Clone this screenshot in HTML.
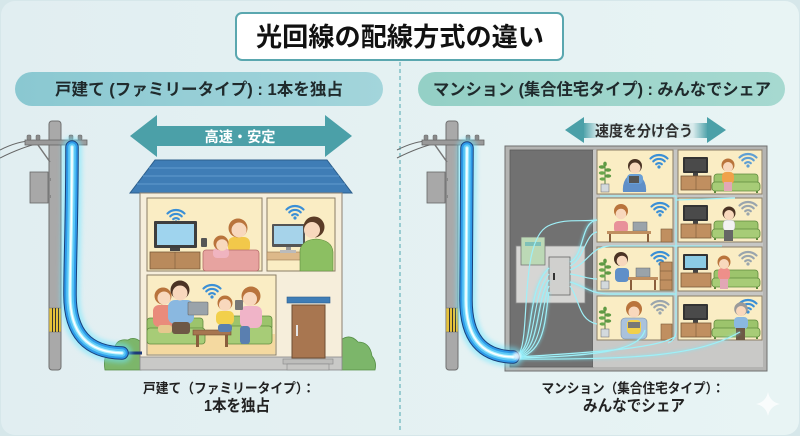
<!DOCTYPE html>
<html><head><meta charset="utf-8">
<style>
html,body{margin:0;padding:0;width:800px;height:436px;overflow:hidden;background:#d6e7ea;}
svg{display:block}
text{font-family:"Liberation Sans","Noto Sans CJK JP",sans-serif;font-weight:bold;}
</style></head><body>
<svg width="800" height="436" viewBox="0 0 800 436" xmlns="http://www.w3.org/2000/svg">
<defs>
<linearGradient id="bg" x1="0" y1="0" x2="1" y2="0"><stop offset="0" stop-color="#e1eef1"/><stop offset="1" stop-color="#e8f4f4"/></linearGradient>
<linearGradient id="pillL" x1="0" y1="0" x2="1" y2="0"><stop offset="0" stop-color="#8ac8d1"/><stop offset="1" stop-color="#a3d5db"/></linearGradient>
<linearGradient id="pillR" x1="0" y1="0" x2="1" y2="0"><stop offset="0" stop-color="#94d0c6"/><stop offset="1" stop-color="#a6d9d0"/></linearGradient>
<linearGradient id="shaft2" x1="0" y1="0" x2="1" y2="0"><stop offset="0" stop-color="#4ba0a8"/><stop offset="0.12" stop-color="#d9ebec"/><stop offset="0.88" stop-color="#d9ebec"/><stop offset="1" stop-color="#4ba0a8"/></linearGradient>
<filter id="glow" x="-50%" y="-50%" width="200%" height="200%"><feGaussianBlur stdDeviation="2.5"/></filter>
<filter id="glow2" x="-50%" y="-50%" width="200%" height="200%"><feGaussianBlur stdDeviation="1.2"/></filter>
<g id="wifi">
 <path d="M-8.5,-2.5 A12,12 0 0 1 8.5,-2.5" fill="none" stroke="currentColor" stroke-width="2.2" stroke-linecap="round"/>
 <path d="M-5.7,0.3 A8,8 0 0 1 5.7,0.3" fill="none" stroke="currentColor" stroke-width="2.2" stroke-linecap="round"/>
 <path d="M-2.8,3.2 A4,4 0 0 1 2.8,3.2" fill="none" stroke="currentColor" stroke-width="2.2" stroke-linecap="round"/>
 <circle cx="0" cy="6" r="1.6" fill="currentColor"/>
</g>
<g id="plant">
 <line x1="0" y1="8" x2="0" y2="-12" stroke="#4e7a3a" stroke-width="1"/>
 <ellipse cx="-3" cy="-9" rx="3.2" ry="1.7" fill="#5f9a44"/>
 <ellipse cx="3" cy="-6" rx="3.2" ry="1.7" fill="#5f9a44"/>
 <ellipse cx="-3" cy="-3" rx="3.2" ry="1.7" fill="#6aa84d"/>
 <ellipse cx="3" cy="0" rx="3.2" ry="1.7" fill="#5f9a44"/>
 <ellipse cx="-2.5" cy="3" rx="3" ry="1.6" fill="#6aa84d"/>
 <ellipse cx="0" cy="-12" rx="1.8" ry="2.4" fill="#5f9a44"/>
 <rect x="-4" y="8" width="8" height="8" fill="#d3d9dd" stroke="#7a7a7a" stroke-width="0.6"/>
</g>
<g id="tvset">
 <rect x="0" y="0" width="25" height="16" rx="1" fill="#333"/>
 <rect x="2" y="2" width="21" height="12" fill="#4a4a4a"/>
 <rect x="10" y="16" width="5" height="3" fill="#444"/>
 <rect x="-2" y="19" width="30" height="14" fill="#c08f60" stroke="#7a5a3a" stroke-width="0.8"/>
 <line x1="13" y1="19" x2="13" y2="33" stroke="#7a5a3a" stroke-width="0.6"/>
</g>
<g id="sofa">
 <rect x="0" y="0" width="44" height="12" rx="3" fill="#9cc46c" stroke="#5f8a3e" stroke-width="0.8"/>
 <rect x="-2" y="8" width="48" height="9" rx="3" fill="#a7cc77" stroke="#5f8a3e" stroke-width="0.8"/>
 <rect x="0" y="17" width="2" height="2" fill="#5f8a3e"/><rect x="42" y="17" width="2" height="2" fill="#5f8a3e"/>
</g>
<g id="pole">
 <path d="M0,150 Q20,140 35,141" fill="none" stroke="#666" stroke-width="1"/>
 <path d="M0,158 Q22,147 40,143" fill="none" stroke="#666" stroke-width="1"/>
 <rect x="49" y="121" width="12" height="249" rx="3" fill="#a9a9a9" stroke="#707070" stroke-width="1"/>
 <rect x="25" y="140" width="62" height="5" fill="#9a9a9a" stroke="#666" stroke-width="0.8"/>
 <rect x="27" y="135" width="4" height="5" rx="1" fill="#8a8a8a" stroke="#666" stroke-width="0.5"/>
 <rect x="36" y="135" width="4" height="5" rx="1" fill="#8a8a8a" stroke="#666" stroke-width="0.5"/>
 <rect x="69" y="135" width="4" height="5" rx="1" fill="#8a8a8a" stroke="#666" stroke-width="0.5"/>
 <rect x="78" y="135" width="4" height="5" rx="1" fill="#8a8a8a" stroke="#666" stroke-width="0.5"/>
 <line x1="38" y1="145" x2="50" y2="162" stroke="#777" stroke-width="1.5"/>
 <rect x="47" y="178" width="4" height="3" fill="#888"/><rect x="47" y="195" width="4" height="3" fill="#888"/>
 <rect x="30" y="172" width="18" height="31" fill="#a8a8a8" stroke="#666" stroke-width="0.8"/>
 <rect x="49" y="308" width="12" height="24" fill="#e6c23a" stroke="#777" stroke-width="0.6"/>
 <line x1="52.5" y1="308" x2="52.5" y2="332" stroke="#333" stroke-width="1"/>
 <line x1="55.5" y1="308" x2="55.5" y2="332" stroke="#333" stroke-width="1"/>
 <line x1="58.5" y1="308" x2="58.5" y2="332" stroke="#333" stroke-width="1"/>
</g>
</defs>

<rect x="1" y="1" width="798" height="434" rx="14" fill="url(#bg)"/>

<!-- title -->
<rect x="236" y="13" width="327" height="47" rx="6" fill="#ffffff" stroke="#5aa7af" stroke-width="2"/>
<text x="400" y="46" font-size="26" text-anchor="middle" textLength="288" lengthAdjust="spacingAndGlyphs" fill="#111">光回線の配線方式の違い</text>

<!-- divider -->
<line x1="400" y1="62" x2="400" y2="432" stroke="#68b4bb" stroke-width="1.2" stroke-dasharray="4 3"/>

<!-- pills -->
<rect x="15" y="72" width="368" height="34" rx="17" fill="url(#pillL)"/>
<text x="199" y="95" font-size="16.5" text-anchor="middle" textLength="288" lengthAdjust="spacingAndGlyphs" fill="#1f2a2c">戸建て (ファミリータイプ) : 1本を独占</text>
<rect x="418" y="72" width="367" height="34" rx="17" fill="url(#pillR)"/>
<text x="602" y="95" font-size="16.5" text-anchor="middle" textLength="338" lengthAdjust="spacingAndGlyphs" fill="#1f2a2c">マンション (集合住宅タイプ) : みんなでシェア</text>

<!-- arrows -->
<polygon points="130,136 157,115 157,126 325,126 325,115 352,136 325,157 325,146 157,146 157,157" fill="#4ba0a8"/>
<text x="240" y="142" font-size="14.5" text-anchor="middle" textLength="71" lengthAdjust="spacingAndGlyphs" fill="#ffffff">高速・安定</text>
<rect x="583" y="123" width="125" height="15" fill="url(#shaft2)"/>
<polygon points="565,130 584,117 584,143" fill="#4ba0a8"/>
<polygon points="707,117 726,130 707,143" fill="#4ba0a8"/>
<text x="644" y="136" font-size="15" text-anchor="middle" textLength="98" lengthAdjust="spacingAndGlyphs" fill="#2e2e2e">速度を分け合う</text>

<!-- ================= LEFT: house ================= -->
<use href="#pole"/>

<!-- bushes -->
<path d="M105,370 Q102,352 114,350 Q116,338 128,340 Q134,336 141,342 L141,370 Z" fill="#7cb66a" stroke="#558f45" stroke-width="0.8"/>
<path d="M341,370 L341,340 Q350,333 358,342 Q370,342 372,356 Q377,362 375,370 Z" fill="#7cb66a" stroke="#558f45" stroke-width="0.8"/>

<!-- roof -->
<polygon points="155,160 327,160 352,193 130,193" fill="#3f7db6" stroke="#2c5e8c" stroke-width="1"/>
<line x1="149" y1="168" x2="333" y2="168" stroke="#5a96c9" stroke-width="1.2"/>
<line x1="143" y1="176" x2="339" y2="176" stroke="#5a96c9" stroke-width="1.2"/>
<line x1="137" y1="184" x2="345" y2="184" stroke="#5a96c9" stroke-width="1.2"/>
<!-- wall -->
<rect x="140" y="193" width="202" height="165" fill="#f6eedb" stroke="#8b8070" stroke-width="1"/>
<rect x="140" y="357" width="202" height="13" fill="#c9c9c7" stroke="#888" stroke-width="0.8"/>
<rect x="283" y="359" width="50" height="5" fill="#bdbdbb" stroke="#888" stroke-width="0.6"/>
<rect x="287" y="364" width="42" height="6" fill="#c6c6c4" stroke="#888" stroke-width="0.6"/>
<rect x="287" y="297" width="43" height="6" fill="#3f7db6" stroke="#2c5e8c" stroke-width="0.6"/>
<rect x="292" y="305" width="33" height="53" fill="#a87650" stroke="#6e4d33" stroke-width="1"/>
<rect x="296" y="325" width="2" height="11" fill="#e4e4e4"/>

<!-- top-left room -->
<rect x="147" y="198" width="115" height="73" fill="#faedc4" stroke="#8b7d66" stroke-width="1"/>
<use href="#wifi" x="176" y="216" color="#3a8fd6"/>
<rect x="154" y="221" width="43" height="27" rx="1" fill="#3e3e3e"/>
<rect x="157" y="224" width="37" height="21" fill="#9fd4ee"/>
<rect x="170" y="248" width="10" height="3" fill="#444"/>
<rect x="150" y="252" width="50" height="17" fill="#b98a5c" stroke="#7a5a3a" stroke-width="0.8"/>
<line x1="175" y1="252" x2="175" y2="269" stroke="#7a5a3a" stroke-width="0.6"/>
<rect x="228" y="237" width="22" height="16" rx="6" fill="#f2c84a"/>
<circle cx="238" cy="228" r="9.5" fill="#b9743c"/>
<circle cx="239" cy="230" r="7.5" fill="#f8d8bd"/>
<rect x="203" y="250" width="56" height="21" rx="3" fill="#e7a3a0" stroke="#b56d6b" stroke-width="0.8"/>
<rect x="213" y="248" width="16" height="10" rx="4" fill="#f0b4c0"/>
<circle cx="221" cy="243" r="7.5" fill="#b9743c"/>
<circle cx="222" cy="245" r="5.8" fill="#f8d8bd"/>
<rect x="201" y="238" width="6" height="9" rx="1" fill="#555"/>

<!-- top-right room -->
<rect x="267" y="198" width="68" height="73" fill="#faedc4" stroke="#8b7d66" stroke-width="1"/>
<use href="#wifi" x="295" y="212" color="#3a8fd6"/>
<rect x="272" y="224" width="33" height="23" rx="1" fill="#555"/>
<rect x="274" y="226" width="29" height="18" fill="#a6d3ea"/>
<rect x="286" y="247" width="5" height="5" fill="#999"/>
<rect x="267" y="252" width="42" height="8" fill="#ddb98a" stroke="#9a7a55" stroke-width="0.6"/>
<rect x="280" y="250" width="16" height="3" fill="#bbb"/>
<path d="M300,271 L300,250 Q302,240 316,239 Q332,240 333,252 L333,271 Z" fill="#8cbf62" stroke="#5f8a3e" stroke-width="0.6"/>
<circle cx="314" cy="227" r="10.5" fill="#5b3c27"/>
<circle cx="312" cy="230" r="8" fill="#f8d8bd"/>

<!-- bottom room -->
<rect x="147" y="275" width="129" height="80" fill="#faedc4" stroke="#8b7d66" stroke-width="1"/>
<rect x="148" y="334" width="127" height="20" fill="#f4d9a0"/>
<use href="#wifi" x="212" y="291" color="#3a8fd6"/>
<rect x="147" y="318" width="56" height="14" rx="3" fill="#9cc46c" stroke="#5f8a3e" stroke-width="0.8"/>
<rect x="147" y="328" width="58" height="16" rx="3" fill="#a7cc77" stroke="#5f8a3e" stroke-width="0.8"/>
<rect x="228" y="316" width="44" height="14" rx="3" fill="#9cc46c" stroke="#5f8a3e" stroke-width="0.8"/>
<rect x="226" y="326" width="46" height="18" rx="3" fill="#a7cc77" stroke="#5f8a3e" stroke-width="0.8"/>
<!-- people -->
<rect x="153" y="305" width="22" height="22" rx="6" fill="#e98b7b"/>
<rect x="158" y="325" width="14" height="8" rx="3" fill="#e6c88e"/>
<circle cx="163" cy="296" r="8.5" fill="#b9743c"/>
<circle cx="164" cy="298" r="6.5" fill="#f8d8bd"/>
<rect x="168" y="300" width="26" height="24" rx="7" fill="#8ab8e0"/>
<rect x="172" y="322" width="18" height="12" rx="3" fill="#6e5845"/>
<circle cx="180" cy="290" r="9.5" fill="#4b3324"/>
<circle cx="180" cy="293" r="7.5" fill="#f8d8bd"/>
<rect x="188" y="302" width="20" height="13" rx="1" fill="#9aa3aa" stroke="#666" stroke-width="0.6"/>
<rect x="193" y="330" width="38" height="5" fill="#a77650" stroke="#6e4d33" stroke-width="0.6"/>
<rect x="196" y="335" width="3" height="12" fill="#8a5e3c"/><rect x="225" y="335" width="3" height="12" fill="#8a5e3c"/>
<rect x="216" y="311" width="18" height="14" rx="5" fill="#f2d04b"/>
<rect x="218" y="324" width="14" height="8" rx="3" fill="#5a7fb0"/>
<circle cx="225" cy="303" r="7.5" fill="#b9743c"/>
<circle cx="225" cy="305" r="6" fill="#f8d8bd"/>
<rect x="240" y="306" width="22" height="22" rx="6" fill="#f0b4c8"/>
<rect x="240" y="326" width="10" height="18" rx="3" fill="#5a7fb0"/>
<circle cx="251" cy="296" r="9.5" fill="#b9743c"/>
<circle cx="250" cy="299" r="7" fill="#f8d8bd"/>
<rect x="235" y="300" width="8" height="10" rx="1" fill="#777"/>

<!-- left fiber cable -->
<line x1="122" y1="353" x2="142" y2="353" stroke="#1c3a78" stroke-width="3"/>
<path d="M72,147 C72,220 70,260 70,295 Q70,352 122,353" fill="none" stroke="#6ee6ff" stroke-width="20" stroke-linecap="round" opacity="0.55" filter="url(#glow)"/>
<path d="M72,147 C72,220 70,260 70,295 Q70,352 122,353" fill="none" stroke="#1a3f7a" stroke-width="13.5" stroke-linecap="round"/>
<path d="M72,147 C72,220 70,260 70,295 Q70,352 122,353" fill="none" stroke="#2e9ae8" stroke-width="11.5" stroke-linecap="round"/>
<path d="M72,147 C72,220 70,260 70,295 Q70,352 122,353" fill="none" stroke="#5cc8f6" stroke-width="7.5" stroke-linecap="round"/>
<path d="M72,147 C72,220 70,260 70,295 Q70,352 122,353" fill="none" stroke="#b4f2ff" stroke-width="3.5" stroke-linecap="round"/>
<path d="M72,147 C72,220 70,260 70,295 Q70,352 122,353" fill="none" stroke="#ffffff" stroke-width="1.4" stroke-linecap="round"/>

<!-- left labels -->
<text x="229" y="393" font-size="13.5" text-anchor="middle" textLength="172" lengthAdjust="spacingAndGlyphs" fill="#222">戸建て（ファミリータイプ）：</text>
<text x="237" y="411" font-size="16" text-anchor="middle" textLength="66" lengthAdjust="spacingAndGlyphs" fill="#222">1本を独占</text>

<!-- ================= RIGHT: apartment ================= -->
<use href="#pole" transform="translate(397,0)"/>

<rect x="505" y="146" width="262" height="225" fill="#b4b4b2" stroke="#6f6f6f" stroke-width="1"/>
<rect x="510" y="150" width="83" height="217" fill="#717171" stroke="#5a5a5a" stroke-width="0.8"/>
<rect x="593" y="150" width="170" height="217" fill="#c6c6c4"/>
<rect x="593" y="340" width="170" height="27" fill="#c9c9c7"/>

<!-- panel -->
<rect x="516" y="246" width="69" height="57" fill="#d6d6d4" stroke="#8a8a8a" stroke-width="0.8"/>
<rect x="521" y="237" width="24" height="28" fill="#bcd9b6" stroke="#777" stroke-width="0.8"/>
<rect x="525" y="242" width="16" height="4" fill="#7fc0b8"/>
<rect x="549" y="257" width="21" height="38" fill="#d0d0ce" stroke="#666" stroke-width="0.8"/>
<rect x="553" y="273" width="2" height="7" fill="#333"/>

<!-- rooms -->
<g stroke="#8b7d66" stroke-width="1" fill="#faedc4">
<rect x="597" y="150" width="76" height="44"/>
<rect x="678" y="150" width="84" height="44"/>
<rect x="597" y="198" width="76" height="44"/>
<rect x="678" y="198" width="84" height="44"/>
<rect x="597" y="247" width="76" height="44"/>
<rect x="678" y="247" width="84" height="44"/>
<rect x="597" y="296" width="76" height="44"/>
<rect x="678" y="296" width="84" height="44"/>
</g>

<!-- R11 -->
<use href="#plant" x="605" y="176"/>
<use href="#wifi" x="659" y="161" color="#3a8fd6"/>
<path d="M623,192 Q622,182 628,176 L640,176 Q647,182 646,192 Z" fill="#5f8fc8"/>
<rect x="627" y="174" width="16" height="10" rx="4" fill="#6a9fd6"/>
<circle cx="635" cy="166" r="7" fill="#4b3324"/>
<circle cx="635" cy="168" r="5.5" fill="#f8d8bd"/>
<rect x="629" y="176" width="10" height="7" fill="#555"/>
<!-- R12 -->
<use href="#tvset" x="683" y="157"/>
<use href="#sofa" x="714" y="174"/>
<use href="#wifi" x="748" y="160" color="#5f9fd3"/>
<rect x="722" y="172" width="12" height="12" rx="4" fill="#f0a24a"/>
<rect x="724" y="182" width="8" height="9" fill="#e2a7b5"/>
<circle cx="728" cy="165" r="6.5" fill="#b9743c"/>
<circle cx="728" cy="167" r="5" fill="#f8d8bd"/>
<!-- R21 -->
<use href="#wifi" x="660" y="209" color="#3a8fd6"/>
<rect x="614" y="221" width="14" height="12" rx="4" fill="#e8919a"/>
<circle cx="621" cy="211" r="7" fill="#b9743c"/>
<circle cx="621" cy="214" r="5.3" fill="#f8d8bd"/>
<rect x="633" y="222" width="14" height="9" fill="#9aa3aa" stroke="#666" stroke-width="0.5"/>
<rect x="607" y="231" width="44" height="3" fill="#c08f60"/>
<rect x="609" y="234" width="2" height="8" fill="#8a5e3c"/><rect x="647" y="234" width="2" height="8" fill="#8a5e3c"/>
<rect x="661" y="229" width="11" height="13" fill="#c08f60" stroke="#7a5a3a" stroke-width="0.6"/>
<!-- R22 -->
<use href="#tvset" x="683" y="205"/>
<use href="#sofa" x="714" y="221"/>
<use href="#wifi" x="748" y="208" color="#9aa5ad"/>
<rect x="723" y="220" width="12" height="11" rx="4" fill="#f2f2f2" stroke="#999" stroke-width="0.4"/>
<rect x="724" y="230" width="9" height="11" fill="#666"/>
<circle cx="729" cy="213" r="6.5" fill="#4b3324"/>
<circle cx="729" cy="215" r="5" fill="#f8d8bd"/>
<!-- R31 -->
<use href="#plant" x="605" y="273"/>
<use href="#wifi" x="660" y="258" color="#3a8fd6"/>
<rect x="615" y="268" width="14" height="14" rx="4" fill="#5f8fc8"/>
<circle cx="621" cy="259" r="7" fill="#4b3324"/>
<circle cx="622" cy="261" r="5.3" fill="#f8d8bd"/>
<rect x="636" y="268" width="14" height="9" fill="#9aa3aa" stroke="#666" stroke-width="0.5"/>
<rect x="628" y="277" width="30" height="3" fill="#c08f60"/>
<rect x="630" y="280" width="2" height="10" fill="#8a5e3c"/><rect x="654" y="280" width="2" height="10" fill="#8a5e3c"/>
<rect x="660" y="262" width="12" height="28" fill="#c08f60" stroke="#7a5a3a" stroke-width="0.6"/>
<line x1="660" y1="271" x2="672" y2="271" stroke="#7a5a3a" stroke-width="0.6"/>
<line x1="660" y1="280" x2="672" y2="280" stroke="#7a5a3a" stroke-width="0.6"/>
<!-- R32 -->
<rect x="683" y="254" width="25" height="16" rx="1" fill="#333"/>
<rect x="685" y="256" width="21" height="12" fill="#8ccbe4"/>
<rect x="693" y="270" width="5" height="3" fill="#444"/>
<rect x="681" y="273" width="30" height="14" fill="#c08f60" stroke="#7a5a3a" stroke-width="0.8"/>
<use href="#sofa" x="714" y="270"/>
<use href="#wifi" x="748" y="258" color="#9aa5ad"/>
<rect x="718" y="268" width="12" height="12" rx="4" fill="#ee8f8a"/>
<rect x="720" y="279" width="8" height="10" fill="#e2a7b5"/>
<circle cx="724" cy="262" r="6.5" fill="#b9743c"/>
<circle cx="724" cy="264" r="5" fill="#f8d8bd"/>
<!-- R41 -->
<use href="#plant" x="605" y="321"/>
<use href="#wifi" x="660" y="307" color="#9aa5ad"/>
<rect x="621" y="318" width="26" height="21" rx="4" fill="#aac2dc" stroke="#7a8ea6" stroke-width="0.6"/>
<rect x="627" y="320" width="14" height="14" rx="4" fill="#f2d04b"/>
<circle cx="634" cy="309" r="8" fill="#b9743c"/>
<circle cx="634" cy="312" r="5.5" fill="#f8d8bd"/>
<rect x="628" y="322" width="12" height="6" fill="#777"/>
<rect x="661" y="324" width="11" height="16" fill="#c08f60" stroke="#7a5a3a" stroke-width="0.6"/>
<!-- R42 -->
<use href="#tvset" x="683" y="304"/>
<use href="#sofa" x="714" y="320"/>
<use href="#wifi" x="748" y="306" color="#3a8fd6"/>
<rect x="734" y="317" width="14" height="12" rx="4" fill="#8ab8e0"/>
<rect x="736" y="328" width="9" height="12" fill="#6e5845"/>
<circle cx="741" cy="309" r="6.8" fill="#9a9a9a"/>
<circle cx="741" cy="311" r="5" fill="#f8d8bd"/>

<!-- fan fibers -->
<g fill="none" stroke="#7fe8f6" stroke-width="3.5" opacity="0.35" filter="url(#glow2)">
<path d="M517,354 C535,350 525,290 549,268"/>
<path d="M517,356 C541,351 535,302 549,280"/>
<path d="M517,358 C547,353 545,314 549,292"/>
<path d="M570,262 C585,255 580,222 597,220"/>
<path d="M570,282 C585,286 590,294 610,294 L676,294"/>
<path d="M517,358 C600,356 640,350 645,330"/>
<path d="M517,359 C640,360 700,355 740,332"/>
</g>
<g fill="none" stroke="#9ff0f8" stroke-width="1.2">
<path d="M517,354 C535,350 525,290 549,268"/>
<path d="M517,355 C538,350 530,296 549,274"/>
<path d="M517,356 C541,351 535,302 549,280"/>
<path d="M517,357 C544,352 540,308 549,286"/>
<path d="M517,358 C547,353 545,314 549,292"/>
<path d="M520,352 C530,330 520,240 548,226 C565,218 580,222 597,220"/>
<path d="M570,262 C585,255 580,222 597,220"/>
<path d="M570,266 C585,258 585,234 597,232"/>
<path d="M570,274 C583,276 588,279 597,279"/>
<path d="M570,282 C585,286 590,294 610,294 L676,294"/>
<path d="M570,286 C580,300 578,320 597,324"/>
<path d="M570,270 C590,262 590,247 610,246 L722,246"/>
<path d="M600,196 L676,196 L676,330 Q676,340 668,343"/>
<path d="M676,200 L735,198"/>
<path d="M517,358 C600,356 640,350 645,330"/>
<path d="M517,357 C600,352 660,348 676,336"/>
<path d="M517,359 C640,360 700,355 740,332"/>
</g>

<!-- right fiber cable -->
<path d="M467,148 L466,300 Q466,356 513,357" fill="none" stroke="#6ee6ff" stroke-width="20" stroke-linecap="round" opacity="0.55" filter="url(#glow)"/>
<path d="M467,148 L466,300 Q466,356 513,357" fill="none" stroke="#1a3f7a" stroke-width="13.5" stroke-linecap="round"/>
<path d="M467,148 L466,300 Q466,356 513,357" fill="none" stroke="#2e9ae8" stroke-width="11.5" stroke-linecap="round"/>
<path d="M467,148 L466,300 Q466,356 513,357" fill="none" stroke="#5cc8f6" stroke-width="7.5" stroke-linecap="round"/>
<path d="M467,148 L466,300 Q466,356 513,357" fill="none" stroke="#b4f2ff" stroke-width="3.5" stroke-linecap="round"/>
<path d="M467,148 L466,300 Q466,356 513,357" fill="none" stroke="#ffffff" stroke-width="1.4" stroke-linecap="round"/>
<circle cx="517" cy="356" r="4" fill="#ffffff" opacity="0.8" filter="url(#glow2)"/>

<!-- right labels -->
<text x="633" y="393" font-size="13.5" text-anchor="middle" textLength="183" lengthAdjust="spacingAndGlyphs" fill="#222">マンション（集合住宅タイプ）：</text>
<text x="634" y="411" font-size="16" text-anchor="middle" textLength="102" lengthAdjust="spacingAndGlyphs" fill="#222">みんなでシェア</text>

<!-- sparkle -->
<path d="M768,392 Q770,402 780,404 Q770,406 768,416 Q766,406 756,404 Q766,402 768,392Z" fill="#ffffff" opacity="0.75"/>
</svg>
</body></html>
